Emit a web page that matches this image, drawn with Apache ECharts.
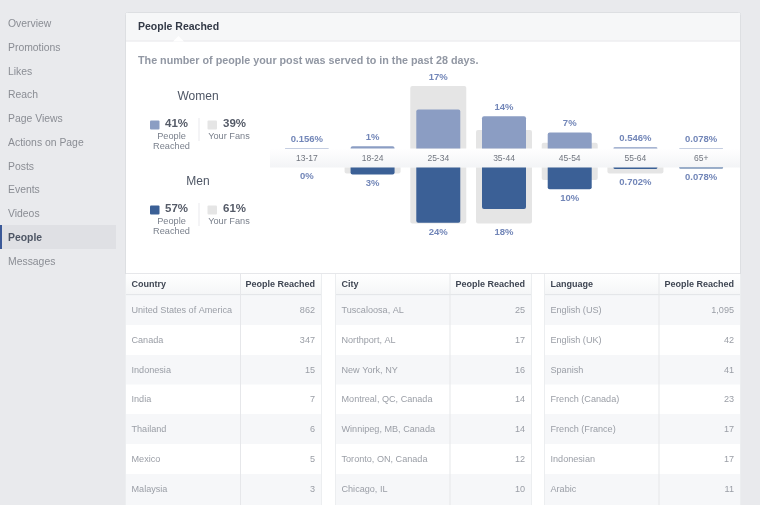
<!DOCTYPE html>
<html><head><meta charset="utf-8">
<style>html,body{margin:0;padding:0;background:#e9eaed;overflow:hidden}#c{width:760px;height:505px}</style>
<script src="https://cdn.jsdelivr.net/npm/echarts@6/dist/echarts.min.js"></script>
</head><body><div id="c"></div>
<script>
const ageGroups = ['13-17','18-24','25-34','35-44','45-54','55-64','65+'];
const womenReached = [0.156,1,17,14,7,0.546,0.078];
const womenFans = [0,0,27.2,8,2.5,0,0];
const menReached = [0,3,24,18,9.5,0.702,0.078];
const menFans = [0,2.6,24.3,24.3,5.4,2.6,0];
const womenLabels = ['0.156%','1%','17%','14%','7%','0.546%','0.078%'];
const menLabels = ['0%','3%','24%','18%','10%','0.702%','0.078%'];
const navItems = ['Overview','Promotions','Likes','Reach','Page Views','Actions on Page','Posts','Events','Videos','People','Messages'];
const countries = ['United States of America','Canada','Indonesia','India','Thailand','Mexico','Malaysia'];
const countryValues = ['862','347','15','7','6','5','3'];
const cities = ['Tuscaloosa, AL','Northport, AL','New York, NY','Montreal, QC, Canada','Winnipeg, MB, Canada','Toronto, ON, Canada','Chicago, IL'];
const cityValues = ['25','17','16','14','14','12','10'];
const languages = ['English (US)','English (UK)','Spanish','French (Canada)','French (France)','Indonesian','Arabic'];
const languageValues = ['1,095','42','41','23','17','17','11'];

const FONT = '"Liberation Sans", Arial, sans-serif';
const els = [];
const rect = (x,y,w,h,fill,z=1,extra={}) => els.push({type:'rect',z,silent:true,shape:{x,y,width:w,height:h,r:extra.r||0},style:{fill,stroke:extra.stroke||null,lineWidth:extra.stroke?1:0}});
const text = (x,y,t,o={}) => els.push({type:'text',z:o.z||5,silent:true,x,y:y+0.7,style:{text:t,fill:o.color||'#4e5665',font:(o.weight||'normal')+' '+(o.size||11)+'px '+FONT,align:o.align||'left',verticalAlign:'middle'}});
const grad = (a,b) => ({type:'linear',x:0,y:0,x2:0,y2:1,colorStops:[{offset:0,color:a},{offset:1,color:b}]});

// sidebar
const navY = [23,47,71,94.5,118.5,142,166,189.5,213,237,261];
rect(0,225,116,24,'#dfe0e4');
rect(0,225,2,24,'#3b5998');
navItems.forEach((n,i)=>text(8,navY[i],n,{size:10.4,color:n==='People'?'#4e5665':'#8a8d94',weight:n==='People'?'bold':'normal'}));

// panel
rect(125.5,12.5,615,520,'#ffffff',1,{stroke:'#dddfe2',r:2});
rect(126,13,614,27.5,'#f6f7f8');
rect(126,40.5,614,1,'#e5e6e9');
els.push({type:'polygon',z:2,silent:true,shape:{points:[[173,41.5],[178.5,36],[184,41.5]]},style:{fill:'#ffffff',lineWidth:0}});
text(138,26,'People Reached',{size:10.5,weight:'bold',color:'#333a47'});
text(138,60,'The number of people your post was served to in the past 28 days.',{size:10.75,weight:'bold',color:'#9197a3'});

// gender legends
const legend = (dy,title,color,pct,fans)=>{
  text(198,96+dy,title,{size:12,align:'center',color:'#4e5665'});
  rect(150,120.5+dy,9.5,9,color,2,{r:1});
  text(165,123+dy,pct,{size:11.5,weight:'bold',color:'#555b68'});
  text(171.5,136+dy,'People',{size:9.2,align:'center',color:'#7a808c'});
  text(171.5,145.5+dy,'Reached',{size:9.2,align:'center',color:'#7a808c'});
  rect(198.5,118+dy,1,23,'#e9eaed');
  rect(207.5,120.5+dy,9.5,9,'#e5e5e5',2,{r:1});
  text(223,123+dy,fans,{size:11.5,weight:'bold',color:'#555b68'});
  text(229,136+dy,'Your Fans',{size:9.2,align:'center',color:'#7a808c'});
};
legend(0,'Women','#8b9dc3','41%','39%');
legend(85,'Men','#3b6096','57%','61%');

// axis strip
rect(270,148.5,470,19,grad('#ffffff','#f3f4f6'));

// tables
const rowTops = [295,325,355,384.5,414,444,474];
const rowH = [30,30,29.5,29.5,30,30,31];
const rowY = [310,340,369.5,399,429,458.5,488.5];
const table = (x,w,split,head,names,vals)=>{
  rect(x,274,w,20,grad('#ffffff','#f5f6f7'));
  rect(x,294,w,1.5,'#e4e6e9');
  rowTops.forEach((t,i)=>{ if(i%2===0) rect(x,i===0?295.5:t,w,i===0?29.5:rowH[i],'#f6f7f9'); });
  rect(split,274,1,231,'#e6e7ea');
  rect(x+w,274,1,231,'#eceef0');
  rect(x-1,274,1,231,'#eceef0');
  text(x+5.5,284,head,{size:9,weight:'bold',color:'#3f4653'});
  text(x+w-6,284,'People Reached',{size:9,weight:'bold',color:'#3f4653',align:'right'});
  names.forEach((n,i)=>{
    text(x+5.5,rowY[i],n,{size:9.1,color:'#9a9ea6'});
    text(x+w-6,rowY[i],vals[i],{size:9.1,color:'#9a9ea6',align:'right'});
  });
};
rect(126,273,614,1,'#e6e7ea');
table(126,195,240,'Country',countries,countryValues);
table(336,195,449.5,'City',cities,cityValues);
table(545,195,658.5,'Language',languages,languageValues);

// chart
const hiddenX = (gridIndex,extra={}) => Object.assign({type:'category',gridIndex,data:ageGroups,show:false},extra);
const labelStyle = (pos,text,on) => ({show:on,position:pos,distance:4,formatter:text,color:'#7286b8',fontSize:9.5,fontWeight:'bold',fontFamily:FONT});
const pick = (vals,other,labels,pos,isFans) => vals.map((v,i)=>{
  const on = isFans ? v>other[i] : v>=other[i];
  return {value:v,label:labelStyle(pos,labels[i],on)};
});
const bar = (name,xi,yi,data,width,color,z,r,minH) => ({name,type:'bar',xAxisIndex:xi,yAxisIndex:yi,data,barWidth:width,z,barMinHeight:minH,
  itemStyle:{color,borderRadius:r},emphasis:{disabled:true},silent:true,animation:false});

const option = {
  animation:false,
  backgroundColor:'#e9eaed',
  textStyle:{fontFamily:FONT},
  graphic:{elements:els},
  grid:[
    {left:274,width:460,top:79.5,height:69},
    {left:274,width:460,top:167.5,height:69}
  ],
  xAxis:[
    {type:'category',gridIndex:0,z:6,data:ageGroups,position:'bottom',axisLine:{show:false},axisTick:{show:false},
     axisLabel:{color:'#70757f',fontSize:8.5,margin:6,fontFamily:FONT,interval:0}},
    hiddenX(0),
    hiddenX(1,{position:'top'}),
    hiddenX(1,{position:'top'})
  ],
  yAxis:[
    {type:'value',gridIndex:0,min:0,max:30,show:false,splitLine:{show:false}},
    {type:'value',gridIndex:1,min:0,max:30,inverse:true,show:false,splitLine:{show:false}}
  ],
  series:[
    bar('Women fans',0,0,pick(womenFans,womenReached,womenLabels,'top',true),56,'#e5e5e5',2,[2,2,0,0],0),
    bar('Women reached',1,0,pick(womenReached,womenFans,womenLabels,'top',false),44,'#8b9dc3',3,[2,2,0,0],0.4),
    bar('Men fans',2,1,pick(menFans,menReached,menLabels,'bottom',true),56,'#e5e5e5',2,[0,0,2,2],0),
    bar('Men reached',3,1,pick(menReached,menFans,menLabels,'bottom',false),44,'#3b6096',3,[0,0,2,2],1)
  ]
};
const chart = echarts.init(document.getElementById('c'),null,{renderer:'canvas'});
chart.setOption(option);
</script></body></html>
